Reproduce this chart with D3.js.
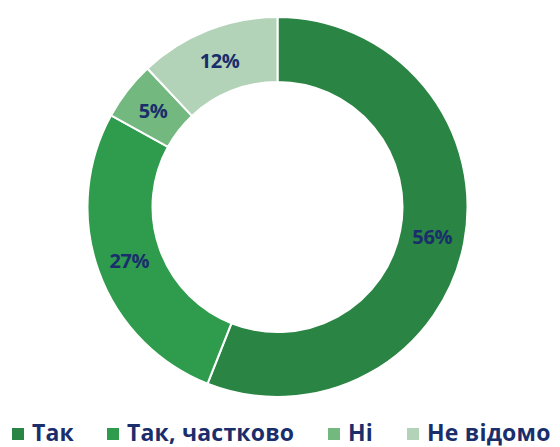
<!DOCTYPE html>
<html lang="uk">
<head>
    <meta charset="UTF-8">
    <title>Donut</title>
    <style>
      body {
        margin: 0;
        background-color: #fff;
        overflow: hidden;
      }
      text {
        font-family: 'Open Sans', 'Noto Sans', sans-serif;
        font-weight: bold;
        fill: #1a2e6c;
      }
    </style>
</head>
<body>
    <svg width="560" height="447"></svg>

    <script src="https://d3js.org/d3.v7.min.js"></script>
    <script>
        const categories = ["Так", "Так, частково", "Ні", "Не відомо"];
        const values = [56, 27, 5, 12];
        const colors = ["#2a8443", "#2f9b4c", "#72b87f", "#b2d3b8"];

        const width = 560;
        const height = 447;
        const cx = 277.5, cy = 207;
        const outerR = 190, innerR = 125;

        const svg = d3.select("svg").attr("width", width).attr("height", height);

        const data = categories.map((c, i) => ({ name: c, value: values[i] }));

        const pie = d3.pie().sort(null).value(d => d.value);
        const arc = d3.arc().innerRadius(innerR).outerRadius(outerR);

        const g = svg.append("g").attr("transform", `translate(${cx},${cy})`);

        // Secteurs
        g.selectAll("path")
            .data(pie(data))
            .enter().append("path")
            .attr("d", arc)
            .attr("fill", (d, i) => colors[i])
            .attr("stroke", "#fff")
            .attr("stroke-width", 2);

        // Etiquettes
        g.selectAll(".label")
            .data(pie(data))
            .enter().append("text")
            .attr("class", "label")
            .attr("transform", d => `translate(${arc.centroid(d)})`)
            .attr("text-anchor", "middle")
            .attr("dy", "0.36em")
            .attr("font-size", 20)
            .attr("letter-spacing", -0.4)
            .text(d => d.data.value + "%");

        // Légende : colonnes à la façon d'Excel
        const legendX = [12, 107, 328, 407];
        const item = svg.selectAll(".legend")
            .data(data)
            .enter().append("g")
            .attr("class", "legend")
            .attr("transform", (d, i) => `translate(${legendX[i]},0)`);

        item.append("rect")
            .attr("x", 0).attr("y", 428)
            .attr("width", 12).attr("height", 12)
            .attr("fill", (d, i) => colors[i]);

        item.append("text")
            .attr("x", 20).attr("y", 441)
            .attr("font-size", 23)
            .attr("letter-spacing", 0.2)
            .text(d => d.name);
    </script>
</body>
</html>
